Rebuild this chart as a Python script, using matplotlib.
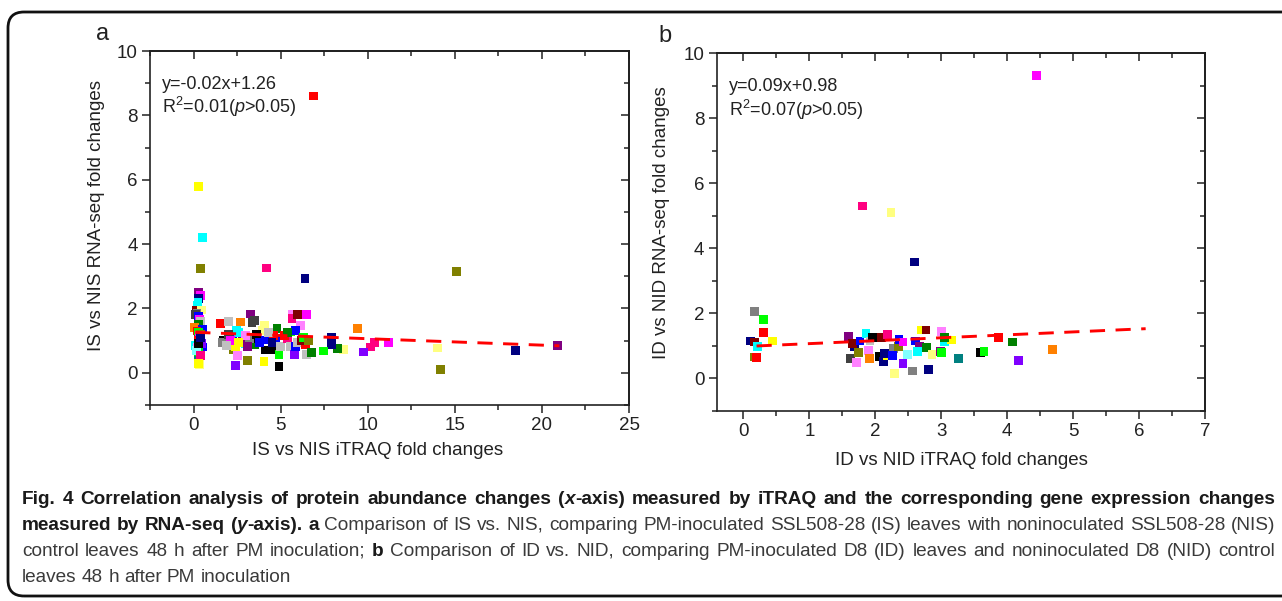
import matplotlib
matplotlib.use("Agg")
import matplotlib.pyplot as plt
from matplotlib import font_manager
from matplotlib.patches import FancyBboxPatch
from matplotlib.transforms import IdentityTransform
from matplotlib.ticker import MultipleLocator

plt.rcParams["font.family"] = "Liberation Sans"
plt.rcParams["mathtext.fontset"] = "custom"
plt.rcParams["mathtext.rm"] = "Liberation Sans"
plt.rcParams["mathtext.it"] = "Liberation Sans:italic"

# Origin-like colour names used by the points
palette = {
    "k": "#000000", "r": "#FF0000", "g": "#00FF00", "b": "#0000FF", "c": "#00FFFF",
    "m": "#FF00FF", "y": "#FFFF00", "ol": "#808000", "nv": "#000080", "pu": "#800080",
    "wi": "#800000", "dg": "#008000", "dc": "#008080", "or": "#FF8000", "vi": "#8000FF",
    "pk": "#FF0080", "lg": "#C0C0C0", "gy": "#808080", "ly": "#FFFF80", "lc": "#80FFFF",
    "lm": "#FF80FF", "dk": "#404040",
}

# ---- panel a: IS vs NIS ----
a_x = [6.9, 0.3, 0.5, 0.4, 4.2, 6.4, 15.1, 14.2, 18.5, 20.9, 14.0, 11.2, 10.4, 10.15,
       9.77, 9.42, 8.62, 8.28, 7.9, 7.9, 7.47,
       0.3, 0.4, 0.3, 0.25, 0.2, 0.15, 0.45, 0.2, 0.1, 0.3, 0.35, 0.4, 0.3, 0.05, 0.5,
       0.2, 0.3, 0.4, 0.3, 0.4, 0.35, 0.1, 0.2, 0.3, 0.5, 0.45, 0.3, 0.15, 0.3, 0.4,
       0.35, 0.3, 0.25, 0.3, 0.4,
       1.53, 2.0, 2.68, 3.26, 3.35, 3.5, 4.06, 3.93, 4.79, 5.56, 5.7, 5.65, 5.98, 6.5,
       6.13, 5.84, 1.7, 1.67, 2.22, 2.28, 2.51, 2.41, 2.41, 2.47, 2.99, 2.8, 3.09, 3.5,
       3.5, 3.2, 3.1, 4.04, 4.14, 4.52, 4.14, 4.72, 4.9, 4.9, 4.6, 4.99, 5.38, 5.57,
       5.8, 5.86, 5.95, 6.44, 6.5, 6.77,
       2.0, 2.6, 3.6, 4.3, 5.2, 6.2, 2.1, 3.0, 4.5, 5.4, 6.3, 1.9, 3.8, 2.6, 6.6]
a_y = [8.6, 5.8, 4.2, 3.25, 3.26, 2.93, 3.15, 0.1, 0.7, 0.86, 0.77, 0.93, 0.94, 0.8,
       0.65, 1.37, 0.73, 0.75, 1.09, 0.89, 0.68,
       2.5, 2.4, 2.3, 2.2, 2.1, 1.95, 1.95, 1.85, 1.8, 1.75, 1.65, 1.6, 1.5, 1.4, 1.35,
       1.3, 1.25, 1.2, 1.05, 0.95, 1.15, 0.85, 0.8, 0.75, 0.8, 0.9, 0.65, 0.7, 0.38, 0.55,
       0.25, 0.3, 1.0, 0.9, 1.1,
       1.53, 1.6, 1.58, 1.83, 1.56, 1.62, 1.47, 1.32, 1.37, 1.27, 1.83, 1.68, 1.81, 1.81,
       1.47, 1.32, 1.02, 0.94, 1.1, 0.73, 0.55, 0.22, 0.81, 1.33, 0.9, 1.07, 0.38, 0.87,
       1.05, 1.05, 0.81, 0.35, 0.71, 0.71, 1.02, 1.05, 0.56, 0.2, 1.15, 0.81, 1.07, 0.81,
       0.56, 0.81, 0.95, 0.88, 0.57, 0.62,
       1.2, 1.25, 1.2, 1.25, 1.15, 1.0, 1.0, 1.15, 0.95, 1.25, 1.1, 0.85, 0.95, 0.95, 1.0]
a_col = ["r", "y", "c", "ol", "pk", "nv", "ol", "ol", "nv", "pu", "ly", "m", "pk", "pk",
         "vi", "or", "ly", "dg", "nv", "nv", "g",
         "pu", "m", "nv", "c", "c", "wi", "ly", "gy", "dk", "b", "m", "lg", "dg", "or", "b",
         "r", "g", "ol", "dk", "gy", "m", "c", "lm", "wi", "b", "vi", "g", "lc", "dc", "pk",
         "ly", "y", "r", "k", "nv",
         "r", "lg", "or", "pu", "dk", "dk", "ly", "ly", "dg", "g", "lm", "pk", "wi", "m",
         "lm", "b", "k", "gy", "b", "ol", "lm", "vi", "y", "c", "c", "pu", "ol", "dg",
         "k", "gy", "pu", "y", "k", "k", "b", "b", "g", "k", "r", "lg", "pk", "lg",
         "vi", "b", "lg", "r", "lg", "dg",
         "dk", "c", "k", "lg", "r", "wi", "m", "lm", "nv", "dg", "g", "lg", "b", "y", "ol"]
a_fit = (-0.02, 1.26)
a_fit_x = [0.1, 21.0]

# ---- panel b: ID vs NID ----
b_x = [4.45, 1.81, 2.24, 2.59, 0.17, 0.31, 0.31,
       0.11, 0.17, 0.22, 0.17, 0.2, 0.44, 1.6, 1.63, 1.68, 1.66, 1.74, 1.71, 1.77, 1.86,
       1.9, 1.91, 1.92, 1.96, 2.07, 2.13, 2.09, 2.19, 2.18, 2.14, 2.28, 2.35, 2.26, 2.29,
       2.36, 2.42, 2.42, 2.49, 2.57, 2.61, 2.67, 2.64, 2.81, 2.7, 2.77, 2.78, 2.86, 2.99,
       3.0, 3.01, 3.05, 3.15, 3.05, 3.26, 3.6, 3.65, 3.87, 4.08, 4.17, 4.69]
b_y = [9.3, 5.3, 5.1, 3.58, 2.05, 1.82, 1.4,
       1.15, 1.12, 0.99, 0.66, 0.64, 1.15, 1.28, 0.61, 0.97, 1.08, 0.79, 0.5, 1.15, 1.38,
       0.86, 0.61, 1.15, 1.25, 0.67, 0.53, 1.25, 1.35, 0.71, 0.77, 0.91, 0.97, 0.71, 0.15,
       1.2, 1.12, 0.45, 0.74, 0.23, 1.15, 0.99, 0.84, 0.28, 1.49, 1.49, 0.96, 0.74, 0.84,
       0.8, 1.44, 1.12, 1.18, 1.25, 0.61, 0.79, 0.84, 1.27, 1.12, 0.55, 0.89]
b_col = ["m", "pk", "ly", "nv", "gy", "g", "r",
         "nv", "wi", "c", "ol", "r", "y", "pu", "dk", "nv", "wi", "ol", "lm", "b", "c",
         "lm", "or", "lg", "k", "k", "nv", "wi", "pk", "y", "nv", "gy", "ol", "b", "ly",
         "b", "m", "vi", "lc", "gy", "b", "pu", "c", "nv", "y", "wi", "dg", "ly", "pu",
         "g", "lm", "c", "y", "dg", "dc", "k", "g", "r", "dg", "vi", "or"]
b_fit = (0.09, 0.98)
b_fit_x = [0.2, 6.1]

W, H = 1282, 601
fig = plt.figure(figsize=(W / 100, H / 100), dpi=100)


def px_axes(l, t, r, b):
    return fig.add_axes([l / W, 1 - b / H, (r - l) / W, (b - t) / H])


def style(ax, xmaj, xlim):
    ax.set_xlim(xlim)
    ax.set_ylim(-1, 10)
    ax.xaxis.set_major_locator(MultipleLocator(xmaj))
    ax.xaxis.set_minor_locator(MultipleLocator(xmaj / 2))
    ax.yaxis.set_major_locator(MultipleLocator(2))
    ax.yaxis.set_minor_locator(MultipleLocator(1))
    ax.tick_params(which="both", direction="out", width=1.1, labelsize=13.5, pad=3,
                   colors="#222222")
    ax.tick_params(which="major", length=6)
    ax.tick_params(which="minor", length=3.5)
    for s in ax.spines.values():
        s.set_linewidth(1.2)
        s.set_color("#222222")
    top = ax.secondary_xaxis("top")
    top.xaxis.set_major_locator(MultipleLocator(xmaj))
    top.xaxis.set_minor_locator(MultipleLocator(xmaj / 2))
    top.tick_params(which="both", direction="in", labeltop=False, width=1.1, colors="#222222")
    top.tick_params(which="major", length=6)
    top.tick_params(which="minor", length=3.5)
    top.spines["top"].set_linewidth(1.2)
    right = ax.secondary_yaxis("right")
    right.yaxis.set_major_locator(MultipleLocator(2))
    right.yaxis.set_minor_locator(MultipleLocator(1))
    right.tick_params(which="both", direction="in", labelright=False, width=1.1, colors="#222222")
    right.tick_params(which="major", length=6)
    right.tick_params(which="minor", length=3.5)
    right.spines["right"].set_linewidth(1.2)


def panel(ax, xs, ys, cols, fit, fit_x, eq, r2):
    ax.scatter(xs, ys, marker="s", s=40, c=[palette[c] for c in cols], linewidths=0, zorder=3)
    ax.plot(fit_x, [fit[0] * v + fit[1] for v in fit_x], color="#FF0000", lw=2.1,
            dashes=(5.2, 3.6), zorder=4)
    ax.text(0.025, 0.906, eq, transform=ax.transAxes, fontsize=13, va="center", color="#222222")
    ax.text(0.025, 0.842, r2, transform=ax.transAxes, fontsize=13, va="center", color="#222222")


ax_a = px_axes(150, 51, 629, 405)
style(ax_a, 5, (-2.5, 25))
panel(ax_a, a_x, a_y, a_col, a_fit, a_fit_x, "y=-0.02x+1.26", r"R$^2$=0.01($p$>0.05)")
ax_a.set_xlabel("IS vs NIS iTRAQ fold changes", fontsize=13.5, color="#222222")
ax_a.set_ylabel("IS vs NIS RNA-seq fold changes", fontsize=13.5, color="#222222")
ax_a.xaxis.set_label_coords(0.475, -0.105)
ax_a.yaxis.set_label_coords(-0.094, 0.535)
fig.text(96 / W, 1 - 40 / H, "a", fontsize=17, color="#222222")

ax_b = px_axes(717, 53, 1205, 411)
style(ax_b, 1, (-0.4, 7))
panel(ax_b, b_x, b_y, b_col, b_fit, b_fit_x, "y=0.09x+0.98", r"R$^2$=0.07($p$>0.05)")
ax_b.set_xlabel("ID vs NID iTRAQ fold changes", fontsize=13.5, color="#222222")
ax_b.set_ylabel("ID vs NID RNA-seq fold changes", fontsize=13.5, color="#222222")
ax_b.xaxis.set_label_coords(0.5, -0.115)
ax_b.yaxis.set_label_coords(-0.096, 0.525)
fig.text(658 / W, 1 - 42 / H, "b", fontsize=17, color="#222222")

# rounded frame
frame = FancyBboxPatch((8, 5), 1320, 584, boxstyle="round,pad=0,rounding_size=16",
                       fill=False, lw=2.0, ec="#111111", transform=IdentityTransform())
fig.add_artist(frame)

# caption
names = {f.name for f in font_manager.fontManager.ttflist}
cap_family = "Liberation Sans Narrow" if "Liberation Sans Narrow" in names else "Liberation Sans"
BOLD, REG = "bold", "normal"
lines = [
    [("Fig. 4 Correlation analysis of protein abundance changes (", BOLD, "normal"),
     ("x", BOLD, "italic"),
     ("-axis) measured by iTRAQ and the corresponding gene expression changes", BOLD, "normal")],
    [("measured by RNA-seq (", BOLD, "normal"), ("y", BOLD, "italic"), ("-axis). a", BOLD, "normal"),
     (" Comparison of IS vs. NIS, comparing PM-inoculated SSL508-28 (IS) leaves with noninoculated SSL508-28 (NIS)",
      REG, "normal")],
    [("control leaves 48 h after PM inoculation; ", REG, "normal"), ("b", BOLD, "normal"),
     (" Comparison of ID vs. NID, comparing PM-inoculated D8 (ID) leaves and noninoculated D8 (NID) control",
      REG, "normal")],
    [("leaves 48 h after PM inoculation", REG, "normal")],
]
renderer = fig.canvas.get_renderer()
X0, LINE_W = 22, 1253


def tokens_of(pieces):
    toks = [[]]
    for s, w, st in pieces:
        for j, p in enumerate(s.split(" ")):
            if j > 0:
                toks.append([])
            if p:
                toks[-1].append((p, w, st))
    return [t for t in toks if t]


def put(s, w, st, x, ybase, size):
    return fig.text(x / W, 1 - ybase / H, s, fontsize=size, weight=w, style=st,
                    family=cap_family, va="baseline",
                    color="#1a1a1a" if w == BOLD else "#3a3a3a")


def token_width(tok, size):
    tot = 0
    for s, w, st in tok:
        t = put(s, w, st, 0, 0, size)
        tot += t.get_window_extent(renderer).width
        t.remove()
    return tot


def space_width(size):
    a = put("a a", REG, "normal", 0, 0, size)
    b = put("aa", REG, "normal", 0, 0, size)
    sw = a.get_window_extent(renderer).width - b.get_window_extent(renderer).width
    a.remove()
    b.remove()
    return sw


# pick one size so the widest line fits, then justify the first three lines
ref = 10
sw_ref = space_width(ref)
natural = []
for pcs in lines:
    toks = tokens_of(pcs)
    natural.append(sum(token_width(t, ref) for t in toks) + sw_ref * (len(toks) - 1))
cap_size = ref * LINE_W / max(natural)
sw = space_width(cap_size)

for i, pcs in enumerate(lines):
    toks = tokens_of(pcs)
    widths = [token_width(t, cap_size) for t in toks]
    gap = (LINE_W - sum(widths)) / (len(toks) - 1) if i < 3 and len(toks) > 1 else sw
    x = X0
    ybase = 504 + 26 * i
    for tok, tw in zip(toks, widths):
        xx = x
        for s, w, st in tok:
            t = put(s, w, st, xx, ybase, cap_size)
            xx += t.get_window_extent(renderer).width
        x += tw + gap

fig.savefig("out.png", dpi=100)
